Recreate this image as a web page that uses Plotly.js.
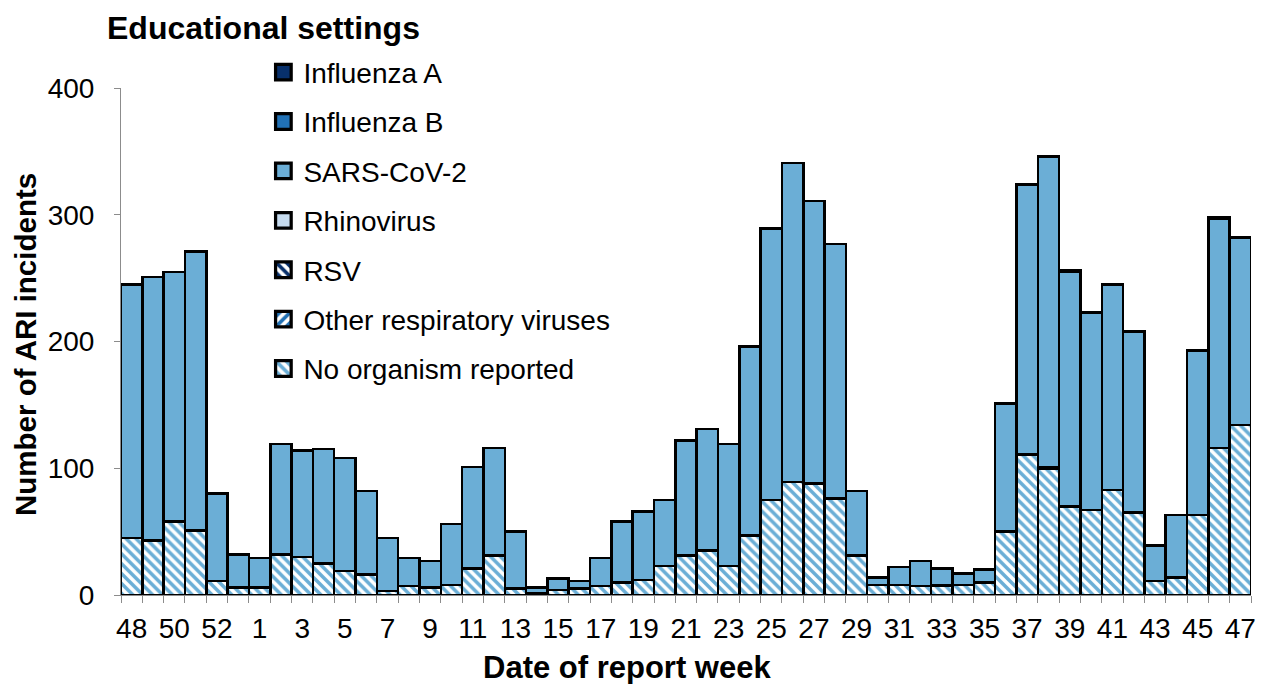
<!DOCTYPE html>
<html>
<head>
<meta charset="utf-8">
<script src="https://cdn.plot.ly/plotly-3.0.1.min.js"></script>
<style>html,body{margin:0;padding:0;background:#fff;}#chart{width:1273px;height:684px;}</style>
</head>
<body>
<div id="chart"></div>
<script>
// Report weeks (week 48 of one year to week 47 of the next)
const weeks = ["48","49","50","51","52","53","1","2","3","4","5","6","7","8","9","10","11","12","13","14","15","16","17","18","19","20","21","22","23","24","25","26","27","28","29","30","31","32","33","34","35","36","37","38","39","40","41","42","43","44","45","46","47"];

const noOrganism = [45,43,58,51,11,6,6,32,30,25,19,16,3,7,6,8,21,31,5,1,4,5,7,10,12,23,31,35,23,47,75,89,88,76,31,8,8,7,7,8,10,50,111,100,70,67,83,65,11,14,63,116,134];
const otherResp  = [0,0,0,0,0,0,0,0,0,0,0,0,0,0,0,0,0,0,0,0,0,0,0,0,0,0,0,0,0,0,0,0,0,0,0,0,0,0,0,0,0,0,0,1,0,0,0,0,0,0,0,0,0];
const rsv        = [0,0,0,0,0,0,0,0,0,0,0,0,0,0,0,0,0,0,0,0,0,0,0,0,0,0,0,0,0,0,0,0,0,0,0,0,0,0,1,0,0,0,0,0,0,0,0,0,0,0,0,0,0];
const rhinovirus = [0,0,0,0,0,0,0,0,0,0,0,0,0,0,0,0,0,0,0,0,0,0,0,0,0,0,0,0,0,0,0,0,0,0,0,0,0,0,0,0,0,0,0,0,0,0,0,0,0,0,0,0,0];
const sarsCov2   = [200,208,197,220,69,26,23,87,84,90,89,66,42,22,21,48,80,85,45,5,9,6,22,48,54,52,91,96,96,149,214,252,223,201,51,6,14,20,13,9,10,101,213,245,185,156,162,143,28,49,130,181,148];
const influenzaB = [0,0,0,0,0,0,0,0,0,0,0,0,0,0,0,0,0,0,0,0,0,0,0,0,0,0,0,0,0,0,0,0,0,0,0,0,0,0,0,0,0,0,0,0,0,0,0,0,0,0,0,0,0];
const influenzaA = [0,0,0,0,0,0,0,0,0,0,0,0,0,0,0,0,0,0,0,0,0,0,0,0,0,0,0,0,0,0,0,0,0,0,0,0,0,0,0,0,0,0,0,0,1,0,0,0,0,0,0,1,0];

const yTicks = [0,100,200,300,400];
const tickLabels = weeks.map((w,i) => (i % 2 === 0 ? w : ""));

const FONT = "Liberation Sans, Arial, sans-serif";
const line = {color:"#000000", width:2.5};

function trace(name, y, color, pattern, rank) {
  const m = {color: color, line: line};
  if (pattern) m.pattern = pattern;
  return {type:"bar", name:name, x:weeks, y:y, marker:m, legendgroup:"g"+rank, legendrank:rank};
}

const data = [
  trace("No organism reported", noOrganism, "#ffffff", {shape:"\\", fgcolor:"#6baed6", bgcolor:"#ffffff", size:7, solidity:0.5, fillmode:"replace"}, 7),
  trace("Other respiratory viruses", otherResp, "#ffffff", {shape:"/", fgcolor:"#2171b5", bgcolor:"#ffffff", size:7, solidity:0.5, fillmode:"replace"}, 6),
  trace("RSV", rsv, "#ffffff", {shape:"\\", fgcolor:"#08306b", bgcolor:"#ffffff", size:7, solidity:0.5, fillmode:"replace"}, 5),
  trace("Rhinovirus", rhinovirus, "#c6dbef", null, 4),
  trace("SARS-CoV-2", sarsCov2, "#6baed6", null, 3),
  trace("Influenza B", influenzaB, "#2171b5", null, 2),
  trace("Influenza A", influenzaA, "#08306b", null, 1)
];

const layout = {
  width:1273, height:684,
  margin:{l:121, r:22, t:88, b:88.5, pad:0},
  paper_bgcolor:"#ffffff", plot_bgcolor:"#ffffff",
  font:{family:FONT, color:"#000000", size:28},
  barmode:"stack", bargap:0,
  title:{text:"<b>Educational settings</b>", font:{family:FONT, size:32, color:"#000"}, x:107/1273, xref:"container", xanchor:"left", y:1-28/684, yref:"container", yanchor:"middle"},
  showlegend:true,
  legend:{x:0.126, y:1.08, xanchor:"left", yanchor:"top", traceorder:"grouped", tracegroupgap:10, font:{family:FONT, size:28, color:"#000"}, bgcolor:"rgba(0,0,0,0)", itemclick:false},
  xaxis:{type:"category", categoryorder:"array", categoryarray:weeks, range:[-0.5, weeks.length-0.5],
    tickmode:"array", tickvals:weeks, ticktext:tickLabels, tickson:"boundaries", tickangle:0,
    ticks:"outside", ticklen:7, tickwidth:1, tickcolor:"#8c8c8c",
    showline:true, linecolor:"#8c8c8c", linewidth:1, showgrid:false, zeroline:false,
    tickfont:{family:FONT, size:28, color:"#000"}, ticklabelstandoff:8, fixedrange:true},
  yaxis:{range:[0,400], tickmode:"array", tickvals:yTicks, ticks:"outside", ticklen:6, tickwidth:1, tickcolor:"#8c8c8c",
    showline:true, linecolor:"#8c8c8c", linewidth:1, showgrid:false, zeroline:false,
    tickfont:{family:FONT, size:28, color:"#000"}, ticklabelstandoff:14, fixedrange:true},
  annotations:[
    {text:"<b>Date of report week</b>", xref:"paper", yref:"paper", x:(627-120.7)/1130.7, y:(595.5-668)/507.2, xanchor:"center", yanchor:"middle", showarrow:false, font:{family:FONT, size:31, color:"#000"}},
    {text:"<b>Number of ARI incidents</b>", xref:"paper", yref:"paper", x:(25-120.7)/1130.7, y:(595.5-345)/507.2, xanchor:"center", yanchor:"middle", textangle:-90, showarrow:false, font:{family:FONT, size:29.5, color:"#000"}}
  ]
};

Plotly.newPlot("chart", data, layout, {displayModeBar:false, staticPlot:true}).then(() => {
  document.querySelectorAll(".legend .legendpoints path").forEach(p => {
    const t = p.getAttribute("transform") || "";
    p.setAttribute("transform", (t + " scale(1.3)").trim());
  });
});
</script>
</body>
</html>
